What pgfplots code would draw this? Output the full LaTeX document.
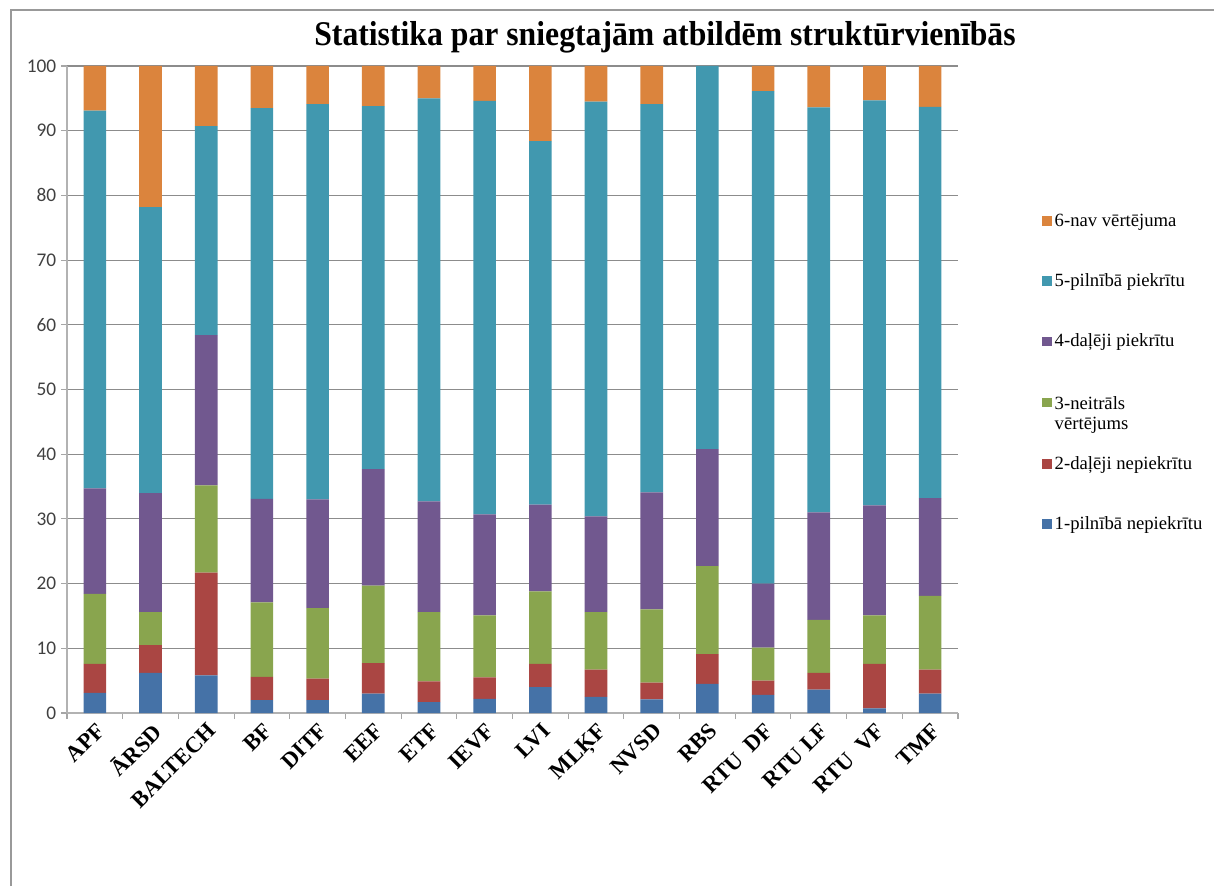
\documentclass[border=0pt]{standalone}
\usepackage{pgfplots}
\usepackage{pgfplotstable}
\pgfplotsset{compat=1.18}
\usepackage{fontspec}
\setmainfont{Liberation Serif}
\newfontfamily\carlito{Carlito}
\definecolor{c1}{HTML}{4572A7}
\definecolor{c2}{HTML}{AA4643}
\definecolor{c3}{HTML}{89A54E}
\definecolor{c4}{HTML}{71588F}
\definecolor{c5}{HTML}{4198AF}
\definecolor{c6}{HTML}{DB843D}
\pgfplotstableread{
x s1 s2 s3 s4 s5 s6
0 3.1 4.5 10.8 16.3 58.4 6.9
1 6.2 4.3 5.1 18.4 44.2 21.8
2 5.8 15.9 13.5 23.2 32.3 9.3
3 2.0 3.6 11.5 16.0 60.4 6.5
4 2.0 3.3 10.9 16.8 61.1 5.9
5 3.0 4.7 12.0 18.0 56.1 6.2
6 1.7 3.2 10.7 17.1 62.3 5.0
7 2.2 3.3 9.6 15.6 63.9 5.4
8 4.0 3.6 11.2 13.4 56.2 11.6
9 2.5 4.2 8.9 14.8 64.1 5.5
10 2.1 2.6 11.3 18.1 60.0 5.9
11 4.5 4.6 13.6 18.1 59.2 0.0
12 2.8 2.2 5.1 9.9 76.1 3.9
13 3.6 2.6 8.2 16.6 62.6 6.4
14 0.7 6.9 7.5 17.0 62.6 5.3
15 3.0 3.7 11.4 15.1 60.5 6.3
}\datatable
\begin{document}
\begin{tikzpicture}[x=0.75pt,y=0.75pt]
\path[use as bounding box] (0,0) rectangle (1214,886);
\draw[black!40, line width=0.9pt] (11,0) -- (11,876) -- (1214,876);
\node[font=\bfseries\fontsize{26}{30}\selectfont] at (665,849) {\scalebox{0.915}[1]{Statistika par sniegtajām atbildēm struktūrvienībās}};
\begin{axis}[
  at={(50.25pt,129.75pt)}, anchor=south west,
  width=668.25pt, height=485.25pt, scale only axis,
  ybar stacked, bar width=17pt,
  xmin=-0.5, xmax=15.5, ymin=0, ymax=100,
  xtick={-0.5,0.5,...,15.5},
  x tick label as interval,
  xticklabels={APF,ĀRSD,BALTECH,BF,DITF,EEF,ETF,IEVF,LVI,MLĶF,NVSD,RBS,RTU~~DF,RTU LF,RTU~~VF,TMF},
  ytick={0,10,...,100},
  ymajorgrids,
  grid style={black!45, line width=0.8pt},
  axis lines*=left,
  axis line style={black!30, line width=1pt},
  tick align=outside,
  major tick length=4.5pt,
  tick style={black!35, line width=0.8pt},
  /pgf/number format/assume math mode=true,
  yticklabel style={font=\carlito\fontsize{14.5}{16}\selectfont, text=black!75},
  xticklabel style={font=\bfseries\fontsize{17}{19}\selectfont, rotate=45, anchor=north east, inner sep=1pt, yshift=-0.5pt},
  legend cell align=left,
  reverse legend,
  legend image code/.code={\fill[#1] (0pt,-3.6pt) rectangle (7.2pt,3.6pt);},
  legend style={draw=none, fill=none, at={(1.09,0.78)}, anchor=north west,
    font=\fontsize{14}{16}\selectfont, row sep=30pt},
]
\addplot[fill=c1, draw=none] table[x=x,y=s1]{\datatable};
\addplot[fill=c2, draw=none] table[x=x,y=s2]{\datatable};
\addplot[fill=c3, draw=none] table[x=x,y=s3]{\datatable};
\addplot[fill=c4, draw=none] table[x=x,y=s4]{\datatable};
\addplot[fill=c5, draw=none] table[x=x,y=s5]{\datatable};
\addplot[fill=c6, draw=none] table[x=x,y=s6]{\datatable};
\legend{1-pilnībā nepiekrītu,2-daļēji nepiekrītu,{\raisebox{0pt}[\height][0pt]{\begin{tabular}[t]{@{}l@{}}3-neitrāls\\[-1pt]vērtējums\end{tabular}}},4-daļēji piekrītu,5-pilnībā piekrītu,6-nav vērtējuma}
\end{axis}
\end{tikzpicture}
\end{document}
